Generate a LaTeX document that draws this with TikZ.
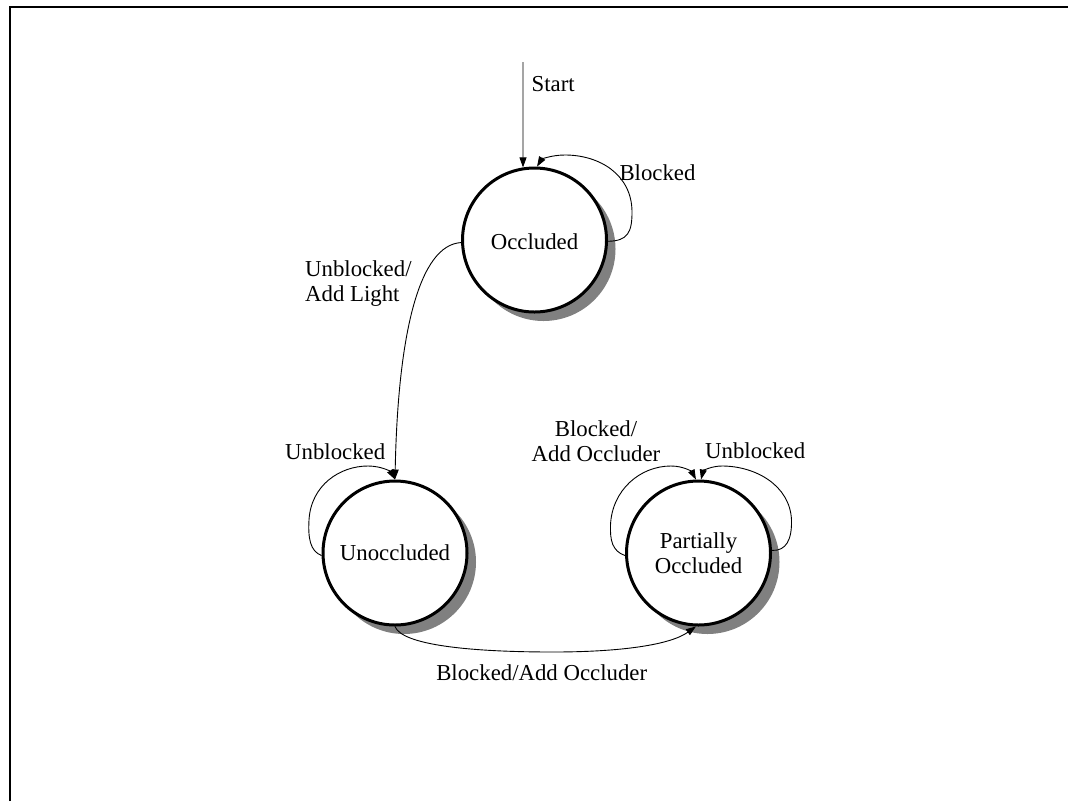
\documentclass[tikz,border=0pt]{standalone}
\usepackage{fontspec}
\setmainfont{Liberation Serif}
\usetikzlibrary{arrows.meta,shadows}
\begin{document}
\begin{tikzpicture}[x=1pt,y=-1pt,
  txt/.style={font=\fontsize{22.8}{25}\selectfont, inner sep=0pt},
  state/.style={circle, draw, line width=3pt, fill=white, minimum size=144pt,
    inner sep=0pt, align=center, font=\fontsize{22.8}{25}\selectfont,
    drop shadow={shadow xshift=9pt, shadow yshift=-9pt, fill=gray, opacity=1}},
  edge/.style={line width=0.9pt, -{Triangle[length=10pt,width=7pt]}},
  frameline/.style={line width=2pt, line join=miter}
]
\useasboundingbox (0,0) rectangle (1068,801);

% frame (top and left rules)
\draw[frameline] (10,801) -- (10,7) -- (1068,7);

% states
\node[state, text height=19pt] (occ) at (534.5,240) {Occluded};
\node[state] (uno) at (395,553) {Unoccluded};
\node[state] (par) at (698.5,553) {Partially\\Occluded};

% initial transition
\coordinate (start) at (523,62);
\draw[edge] (start) -- (occ.99);
\node[txt, anchor=base west] (lstart) at (531.5,91.5) {Start};

% Occluded self-loop
\draw[edge] (occ.-1) .. controls (628,241) and (632,232) .. (632,212)
  .. controls (632,175) and (600,155) .. (565,155)
  .. controls (550,155) and (541,160) .. (occ.88);
\node[txt, anchor=base west] (lblk) at (619.3,180.5) {Blocked};

% Occluded -> Unoccluded
\draw[edge] (occ.182) .. controls (420,245) and (398,330) .. (uno.90);
\node[txt, anchor=north west, align=left] (lunbl) at (305,260) {Unblocked/\\Add Light};

% Unoccluded self-loop
\draw[edge] (uno.182) .. controls (310,551) and (308,538) .. (309,520)
  .. controls (311,485) and (340,466) .. (368,466)
  .. controls (382,466) and (391,472) .. (uno.90);
\node[txt, anchor=base west] (lunbl2) at (285,459.3) {Unblocked};

% Partially Occluded self-loops
\draw[edge] (par.182) .. controls (612,551) and (610,540) .. (610.5,525)
  .. controls (612,490) and (640,466) .. (671,466)
  .. controls (684,466) and (692,472) .. (par.92);
\node[txt, anchor=north, align=center] (lblkocc) at (596,420) {Blocked/\\Add Occluder};

\draw[edge] (par.2) .. controls (786,551) and (792,540) .. (791.5,520)
  .. controls (790,485) and (755,466) .. (722,466)
  .. controls (711,466) and (703,471) .. (par.88);
\node[txt, anchor=base west] (lunbl3) at (705,458.3) {Unblocked};

% Unoccluded -> Partially Occluded
\draw[edge] (uno.270) .. controls (402,645) and (470,652) .. (553,652)
  .. controls (620,652) and (670,645) .. (par.268);
\node[txt, anchor=base] (lblkocc2) at (541.7,680) {Blocked/Add Occluder};
\end{tikzpicture}
\end{document}
